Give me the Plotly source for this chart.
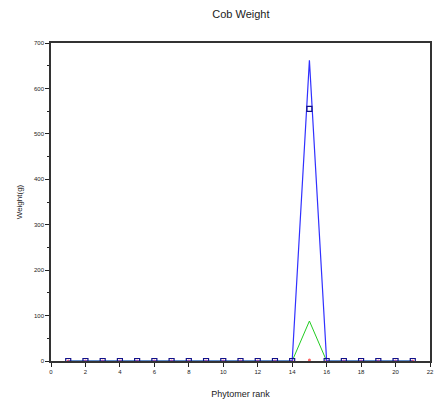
import plotly.graph_objects as go

x_rank = list(range(1, 22))
blue_line = [0]*13 + [0, 662, 0] + [0]*5
blue_marks = [0]*13 + [0, 555, 0] + [0]*5
green_line = [0]*13 + [0, 88, 0] + [0]*5
red_marks = [0]*13 + [0, 2, 0] + [0]*5

x_ticks = list(range(0, 23, 2))
y_ticks = list(range(0, 701, 100))

fig = go.Figure()
fig.add_trace(go.Scatter(x=x_rank, y=green_line, mode="lines",
                         line=dict(color="#22cc22", width=1)))
fig.add_trace(go.Scatter(x=x_rank, y=red_marks, mode="markers",
                         marker=dict(color="#ff6666", size=3)))
fig.add_trace(go.Scatter(x=x_rank, y=blue_line, mode="lines",
                         line=dict(color="#3030ff", width=1.2)))
fig.add_trace(go.Scatter(x=x_rank, y=blue_marks, mode="markers",
                         marker=dict(symbol="square-open", color="#10108a", size=5,
                                     line=dict(width=1.2, color="#10108a"))))

fig.update_layout(
    width=438, height=405,
    margin=dict(l=51, r=4, t=43, b=44),
    paper_bgcolor="white", plot_bgcolor="white",
    showlegend=False,
    font=dict(family="Liberation Sans, Arial, sans-serif", color="#222"),
    title=dict(text="Cob Weight", x=0.55, xanchor="center", y=0.965, yanchor="middle",
               font=dict(size=11, color="#222")),
)
fig.update_xaxes(range=[0, 22], tickvals=x_ticks, ticks="outside", ticklen=4,
                 tickcolor="#222", showline=True, linecolor="#333", linewidth=1.5,
                 mirror=True, showgrid=False, zeroline=False,
                 tickfont=dict(size=6), title=dict(text="Phytomer rank", font=dict(size=9), standoff=17))
fig.update_yaxes(range=[0, 700], tickvals=y_ticks, ticks="outside", ticklen=4,
                 tickcolor="#222", showline=True, linecolor="#333", linewidth=1.5,
                 mirror=True, showgrid=False, zeroline=False,
                 minor=dict(dtick=50, ticks="outside", ticklen=2, tickcolor="#222"),
                 tickfont=dict(size=6), title=dict(text="Weight(g)", font=dict(size=8), standoff=10))

fig.write_html("out.html")
